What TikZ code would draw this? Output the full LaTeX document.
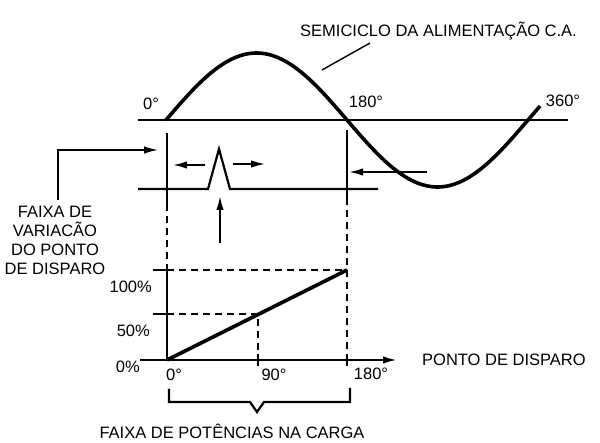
\documentclass[tikz,border=0pt]{standalone}
\usepackage{fontspec}
\setmainfont{Liberation Sans}
\usetikzlibrary{arrows.meta}

\tikzset{
  lbl/.style={font=\fontsize{16.5}{19}\selectfont, inner sep=0pt},
  wave/.style={line width=3.6pt},
  axisline/.style={line width=2.2pt},
  dashline/.style={line width=2.2pt, dash pattern=on 7pt off 5pt},
  leader/.style={line width=1.4pt},
  arr/.style={-{Latex[length=14pt,width=7.5pt]}, line width=1.8pt},
}

\begin{document}
\begin{tikzpicture}[x=1pt,y=-1pt]

\useasboundingbox (0,0) rectangle (600,443);

\def\xa{167}; % 0 deg
\def\xb{347}; % 180 deg
\def\xm{258}; % 90 deg
\def\yt{120}; % top axis
\def\yp{189}; % pulse line
\def\yh{270}; % 100 %
\def\yf{314}; % 50 %
\def\yz{360}; % 0 %

% supply half cycle
\draw[wave] plot[domain=0:372, samples=120] ({166+\x*1.0056},{\yt-67*sin(\x)});

\coordinate (tl) at (138,\yt);
\coordinate (tr) at (568,\yt);
\draw[axisline] (tl) -- (tr);

\node[lbl] (deg0) at (151,104) {0°};
\node[lbl] (deg180) at (366,102) {180°};
\node[lbl] (deg360) at (563,101) {360°};

\node[lbl, anchor=west] (semi) at (300,31) {SEMICICLO DA ALIMENTAÇÃO C.A.};
\coordinate (semia) at (370,43);
\coordinate (semib) at (322,70);
\draw[leader] (semia) -- (semib);

% pulse line
\coordinate (pl) at (138,\yp);
\coordinate (pa) at (208,\yp);
\coordinate (pt) at (219,149);
\coordinate (pb) at (230,\yp);
\coordinate (pr) at (378,\yp);
\draw[axisline] (pl) -- (pa) -- (pt) -- (pb) -- (pr);

% range limits
\coordinate (la) at (\xa,133);
\coordinate (lb) at (\xa,204);
\coordinate (lc) at (\xa,\yh);
\coordinate (ra) at (\xb,130);
\coordinate (rb) at (\xb,198);
\coordinate (rc) at (\xb,354);
\coordinate (rd) at (\xb,366);
\draw[axisline] (la) -- (lb);
\draw[dashline] (lb) -- (lc);
\draw[axisline] (ra) -- (rb);
\draw[dashline] (rb) -- (rc);

% arrows
\coordinate (fa) at (58,200);
\coordinate (fb) at (58,150);
\coordinate (fc) at (158,150);
\draw[arr, line width=1.4pt] (fa) -- (fb) -- (fc);

\coordinate (lsa) at (205,165);
\coordinate (lsb) at (173,165);
\draw[arr] (lsa) -- (lsb);
\coordinate (rsa) at (233,164);
\coordinate (rsb) at (265,164);
\draw[arr] (rsa) -- (rsb);
\coordinate (upa) at (220,243);
\coordinate (upb) at (220,196);
\draw[arr] (upa) -- (upb);
\coordinate (ea) at (427,172);
\coordinate (eb) at (349,172);
\draw[arr] (ea) -- (eb);

\node[lbl, align=center] (faixa) at (55,240) {FAIXA DE\\VARIACÃO\\DO PONTO\\DE DISPARO};

% power graph
\coordinate (o) at (\xa,\yz);
\coordinate (xe) at (397,\yz);
\coordinate (xs) at (140,\yz);
\draw[axisline, -{Latex[length=14pt,width=7.5pt]}] (xs) -- (xe);
\draw[axisline] (lc) -- (o);

\coordinate (ht) at (153,\yh);
\coordinate (hs) at (\xa,\yh);
\coordinate (he) at (\xb,\yh);
\draw[axisline] (ht) -- (hs);
\draw[dashline] (hs) -- (he);

\coordinate (ft) at (153,\yf);
\coordinate (fs) at (\xa,\yf);
\coordinate (fe) at (\xm,\yf);
\coordinate (fz) at (\xm,\yz);
\draw[axisline] (ft) -- (fs);
\draw[dashline] (fs) -- (fe) -- (fz);
\draw[axisline] (\xm,354) -- (\xm,366);
\draw[axisline] (rc) -- (rd);

\draw[wave] (o) -- (he);

\node[lbl, anchor=east] (p100) at (152,287) {100\%};
\node[lbl, anchor=east] (p50) at (150,331) {50\%};
\node[lbl, anchor=east] (p0) at (140,367) {0\%};

\node[lbl] (x0) at (174,375) {0°};
\node[lbl] (x90) at (274,375) {90°};
\node[lbl] (x180) at (371,374) {180°};
\node[lbl, anchor=west] (disp) at (422,360) {PONTO DE DISPARO};

% brace
\coordinate (ba) at (169,389);
\coordinate (bb) at (169,402);
\coordinate (bc) at (250,402);
\coordinate (bd) at (257,412);
\coordinate (be) at (264,402);
\coordinate (bf) at (350,402);
\coordinate (bg) at (350,388);
\draw[axisline] (ba) -- (bb) -- (bc) -- (bd) -- (be) -- (bf) -- (bg);

\node[lbl] (carga) at (232,431) {FAIXA DE POTÊNCIAS NA CARGA};

\end{tikzpicture}
\end{document}
